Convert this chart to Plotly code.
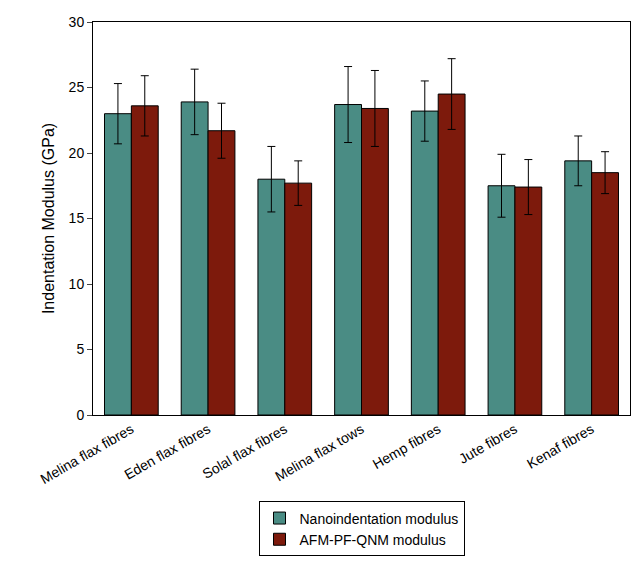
import plotly.graph_objects as go

categories = ["Melina flax fibres", "Eden flax fibres", "Solal flax fibres", "Melina flax tows",
              "Hemp fibres", "Jute fibres", "Kenaf fibres"]
nano = [23.0, 23.9, 18.0, 23.7, 23.2, 17.5, 19.4]
nano_err = [2.3, 2.5, 2.5, 2.9, 2.3, 2.4, 1.9]
afm = [23.6, 21.7, 17.7, 23.4, 24.5, 17.4, 18.5]
afm_err = [2.3, 2.1, 1.7, 2.9, 2.7, 2.1, 1.6]

fig = go.Figure()
fig.add_bar(x=categories, y=nano, name="Nanoindentation modulus", marker_color="#4a8c84",
            marker_line=dict(color="black", width=1),
            error_y=dict(type="data", array=nano_err, color="black", thickness=1, width=4))
fig.add_bar(x=categories, y=afm, name="AFM-PF-QNM modulus", marker_color="#7d1a0c",
            marker_line=dict(color="black", width=1),
            error_y=dict(type="data", array=afm_err, color="black", thickness=1, width=4))

fig.update_layout(
    width=625, height=565, barmode="group", bargap=0.3, bargroupgap=0,
    plot_bgcolor="white", paper_bgcolor="white",
    font=dict(family="Liberation Sans, Arial", size=14, color="black"),
    margin=dict(l=85, r=3, t=14, b=158, autoexpand=False),
    legend=dict(x=0.5, xanchor="center", y=-0.22, yanchor="top", bgcolor="white",
                bordercolor="black", borderwidth=1, font=dict(size=14)),
    xaxis=dict(tickangle=-30, showline=True, linecolor="black", mirror=True, ticks="",
               tickfont=dict(size=14), automargin=False),
    yaxis=dict(range=[0, 30], dtick=5, showline=True, linecolor="black", mirror=True, ticks="outside",
               ticklen=5, showgrid=False, zeroline=False, automargin=False, tickfont=dict(size=14),
               title=dict(text="Indentation Modulus (GPa)", font=dict(size=16), standoff=10)),
)
fig.write_html("out.html")
